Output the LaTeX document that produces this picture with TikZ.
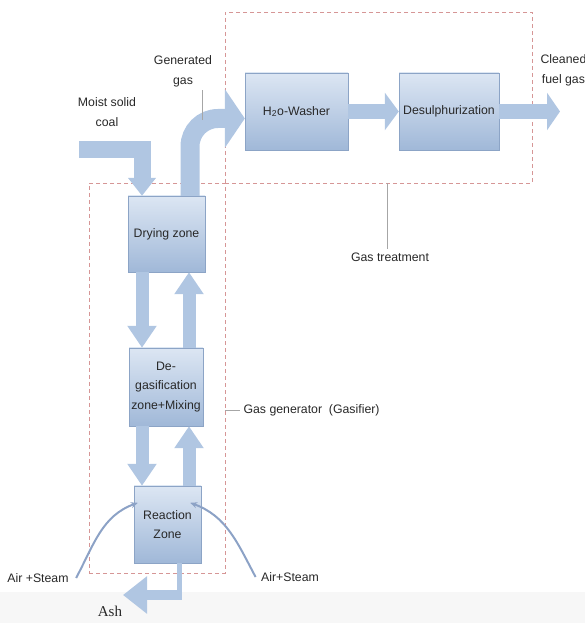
\documentclass[tikz,border=0pt]{standalone}
\usepackage{fontspec}
\setmainfont{Liberation Sans}
\newfontfamily\ashfont{Liberation Serif}
\usetikzlibrary{arrows.meta}
\definecolor{boxtop}{RGB}{220,230,243}
\definecolor{boxbot}{RGB}{160,184,216}
\definecolor{boxline}{RGB}{140,164,198}
\definecolor{flowblue}{RGB}{176,198,226}
\definecolor{regionred}{RGB}{214,150,150}
\definecolor{airblue}{RGB}{140,162,198}
\definecolor{labelgray}{RGB}{40,40,40}
\tikzset{
  zone/.style={
    rectangle,
    draw=boxline,
    top color=boxtop,
    bottom color=boxbot,
    align=center,
    inner sep=1pt,
    text=labelgray,
    font=\fontsize{12.3}{19.5}\selectfont
  },
  region/.style={
    rectangle,
    draw=regionred,
    dash pattern=on 4pt off 3pt,
    line width=0.9pt
  },
  flow/.style={
    draw=flowblue,
    line width=13pt,
    -{Triangle[length=22pt,width=28pt]}
  },
  label/.style={
    align=center,
    text=labelgray,
    font=\fontsize{12.3}{20}\selectfont
  },
  callout/.style={draw=gray!70, line width=0.6pt},
  air/.style={draw=airblue, line width=2pt, -{Stealth[length=7pt,width=6pt]}}
}

\begin{document}
\begin{tikzpicture}[x=1pt,y=1pt]
    \useasboundingbox (0,0) rectangle (585,623);
    \fill[black!3] (0,0) rectangle (585,31);

    % dashed regions
    \node[region, minimum width=307pt, minimum height=171pt] (treat) at (378.5,525.5) {};
    \node[region, minimum width=136pt, minimum height=390pt] (gasifier) at (157,245) {};

    % zones
    \node[zone, minimum width=77pt, minimum height=76pt] (drying) at (166.5,389) {Drying zone};
    \node[zone, minimum width=74pt, minimum height=78pt] (degas) at (166,236) {De-\\gasification\\zone+Mixing};
    \node[zone, minimum width=67pt, minimum height=77pt] (reaction) at (167.5,98.5) {Reaction\\Zone};
    \node[zone, minimum width=103pt, minimum height=77pt] (washer) at (296.5,511.5) {H\textsubscript{2}o-Washer};
    \node[zone, minimum width=100pt, minimum height=77pt] (desulph) at (449,511.5) {Desulphurization};

    % labels
    \node[label] (coal) at (107,511) {Moist solid\\coal};
    \node[label] (gengas) at (183,552) {Generated\\gas};
    \node[label, anchor=west] (cleaned) at (537,553) {Cleaned\\fuel gas};
    \node[label] (gastreat) at (390,366) {Gas treatment};
    \node[label, anchor=west] (gasgen) at (240,213) {Gas generator~~(Gasifier)};
    \node[label] (airl) at (38,45) {Air +Steam};
    \node[label] (airr) at (290,46) {Air+Steam};
    \node[text=labelgray, font=\ashfont\fontsize{15}{17}\selectfont] (ash) at (110,12) {Ash};

    \coordinate (dn) at (142,0);
    \coordinate (up) at (189,0);
    \coordinate (gx) at (190,0);
    \coordinate (coalin) at (79,473);
    \coordinate (ashx) at (179,0);
    \coordinate (ashbend) at (179,28);
    \coordinate (ashtip) at (123,28);
    \coordinate (outtip) at (560,511.5);

    % main flow
    \draw[flow, line width=17pt, -{Triangle[length=18pt,width=27pt]}] (coalin) -| (drying.north -| dn);
    \draw[flow, line width=19pt, rounded corners=28pt, -{Triangle[length=20pt,width=58pt]}]
        (drying.north -| gx) |- ([yshift=-7pt]washer.west);
    \draw[flow, line width=15pt, -{Triangle[length=14pt,width=37pt]}] (washer) -- (desulph);
    \draw[flow, line width=15pt, -{Triangle[length=13pt,width=37pt]}] (desulph.east) -- (outtip);

    \draw[flow] (drying.south -| dn) -- (degas.north -| dn);
    \draw[flow] (degas.north -| up) -- (drying.south -| up);
    \draw[flow] (degas.south -| dn) -- (reaction.north -| dn);
    \draw[flow] (reaction.north -| up) -- (degas.south -| up);

    \draw[flowblue, line width=5pt] (reaction.south -| ashx) -- (ashbend);
    \draw[flow, line width=10pt, -{Triangle[length=24pt,width=36pt]}] ([xshift=2.5pt]ashbend) -- (ashtip);

    % air + steam
    \draw[air] ([xshift=4pt]airl.east) to[out=62,in=200] ([shift={(4pt,-17pt)}]reaction.north west);
    \draw[air] ([xshift=-2pt]airr.west) to[out=118,in=-20] ([shift={(-11pt,-17pt)}]reaction.north east);

    % callouts
    \draw[callout] (gasifier.east |- gasgen.west) -- (gasgen.west);
    \draw[callout] (treat.south -| 387,0) -- ([xshift=-3pt]gastreat.north);
    \draw[callout] ([xshift=19pt]gengas.south) -- ++(0,-30);
\end{tikzpicture}
\end{document}
